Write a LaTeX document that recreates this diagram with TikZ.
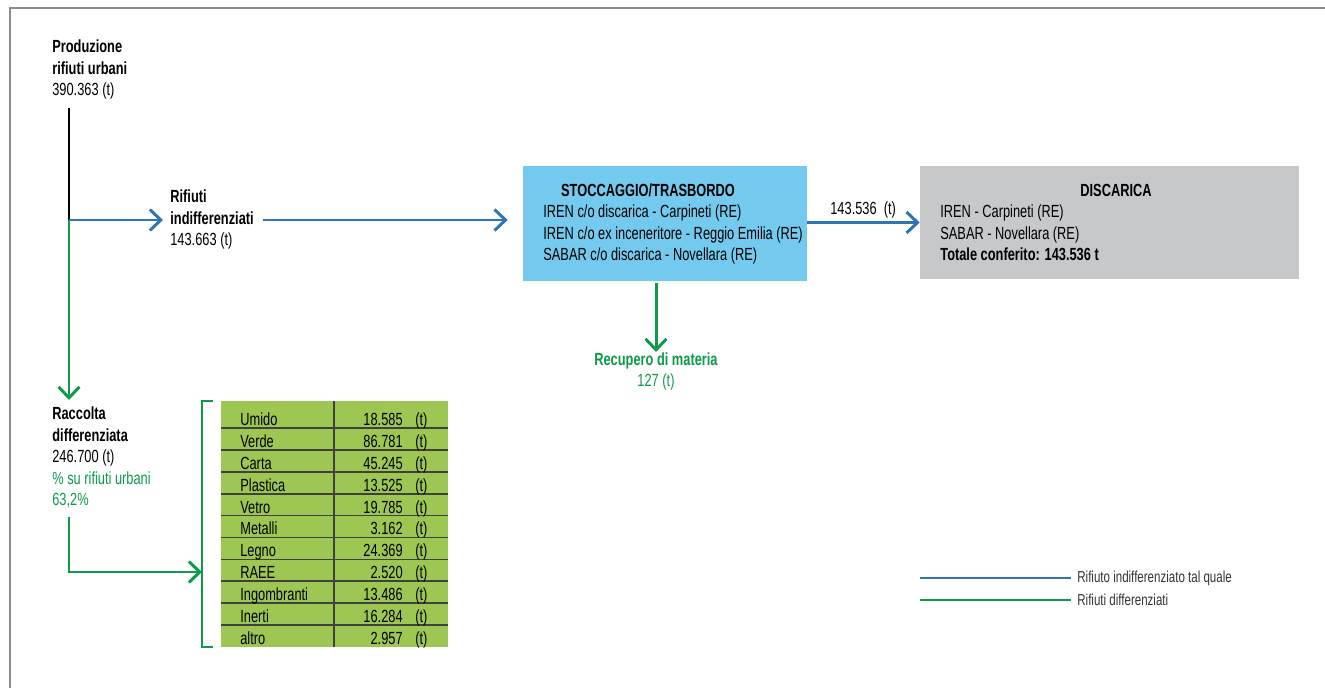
\documentclass[tikz,border=0pt]{standalone}
\usepackage{fontspec}
\setmainfont{Liberation Sans}[FakeStretch=0.73]
\usetikzlibrary{arrows.meta,positioning,calc}
\definecolor{flowblue}{HTML}{2E75B6}
\definecolor{flowgreen}{HTML}{0E9A48}
\definecolor{stockfill}{HTML}{73CAEE}
\definecolor{discfill}{HTML}{C7C8CA}
\definecolor{tabfill}{HTML}{9DC653}
\definecolor{framegray}{HTML}{8C8C8C}

\begin{document}
\begin{tikzpicture}[x=0.02cm, y=-0.02cm,
  txt/.style={anchor=base west, inner sep=0pt, align=left, font=\fontsize{10}{12.3}\selectfont},
  headtxt/.style={anchor=base, inner sep=0pt, font=\fontsize{10}{12.3}\selectfont\bfseries},
  boxfill/.style={rectangle, inner sep=0pt, minimum width=#1},
  bluearr/.style={-{Straight Barb[length=0.22cm,width=0.42cm]}, line width=1.7pt, flowblue},
  greenarr/.style={-{Straight Barb[length=0.22cm,width=0.42cm]}, line width=1.7pt, flowgreen},
  legline/.style={line width=1.7pt},
  sep/.style={line width=1pt, black!75},
  legtxt/.style={anchor=west, inner sep=0pt, font=\fontsize{9}{11}\selectfont, black!80}
]
  \useasboundingbox (0,0) rectangle (1325,688);
  \draw[framegray, line width=0.8pt] (1325,8) -- (10,8) -- (10,688);

  % top of the flow (multi-line texts sit on their last baseline)
  \node[txt] (prod) at (52,96) {\textbf{Produzione}\\\textbf{rifiuti urbani}\\390.363 (t)};
  \coordinate (prodend) at (69,108);
  \coordinate (split) at (69,220);
  \coordinate (indtip) at (163,220);
  \node[txt] (rifind) at (170,246) {\textbf{Rifiuti}\\\textbf{indifferenziati}\\143.663 (t)};
  \coordinate (indstart) at (263,220);

  % boxes
  \node[boxfill=5.68cm, minimum height=2.3cm, fill=stockfill] (stock) at (665,223.5) {};
  \node[headtxt] (stockhead) at (648,197) {STOCCAGGIO/TRASBORDO};
  \node[txt] (stocktxt) at (543,261) {IREN c/o discarica - Carpineti (RE)\\IREN c/o ex inceneritore - Reggio Emilia (RE)\\SABAR c/o discarica - Novellara (RE)};
  \node[boxfill=7.58cm, minimum height=2.26cm, fill=discfill] (disc) at (1109.5,222.5) {};
  \node[headtxt] (dischead) at (1116,197) {DISCARICA};
  \node[txt] (disctxt) at (940,261) {IREN - Carpineti (RE)\\SABAR - Novellara (RE)\\\textbf{Totale conferito: 143.536 t}};
  \node[txt] (discqty) at (830,215) {143.536~ (t)};
  \node[txt, anchor=north, align=center, text=flowgreen] (recup) at (656,352) {\textbf{Recupero di materia}\\127 (t)};

  % raccolta differenziata
  \node[txt] (racc) at (52,506) {\textbf{Raccolta}\\\textbf{differenziata}\\246.700 (t)\\\textcolor{flowgreen}{\% su rifiuti urbani}\\\textcolor{flowgreen}{63,2\%}};
  \coordinate (racctop) at (69,400);
  \coordinate (raccend) at (69,517);
  \coordinate (racctip) at (202,572);

  \node[boxfill=4.54cm, minimum height=4.92cm, fill=tabfill] (tab) at (334.5,524) {};
  \draw[sep] (334,401) -- (334,647);
  \foreach \lab/\val [count=\i from 0] in {Umido/18.585, Verde/86.781, Carta/45.245, Plastica/13.525, Vetro/19.785, Metalli/3.162, Legno/24.369, RAEE/2.520, Ingombranti/13.486, Inerti/16.284, altro/2.957}{
    \pgfmathsetmacro\yb{428+21.9*\i}
    \ifnum\i<10 \draw[sep] (221,\yb) -- (448,\yb); \fi
    \node[txt] (lab\i) at (240,\yb-2.5) {\lab};
    \node[txt, anchor=base east] (val\i) at (403,\yb-2.5) {\val};
    \node[txt] (unit\i) at (415,\yb-2.5) {(t)};
  }
  \draw[flowgreen, line width=0.8pt] (213,401) -- (202,401) -- (202,647) -- (213,647);

  % connectors
  \draw[line width=1.4pt] (prodend) -- (split);
  \draw[bluearr] (split) -- (indtip);
  \draw[bluearr, shorten >=0.3cm] (indstart) -- (stock.west |- indstart);
  \draw[bluearr] (stock.east |- disc.west) -- (disc.west);
  \draw[greenarr, shorten <=0.04cm] (recup.north |- stock.south) -- (recup.north);
  \draw[greenarr] (split) -- (racctop);
  \draw[greenarr] (raccend) |- (racctip);

  % legend
  \node[legtxt] (legind) at (1077,578) {Rifiuto indifferenziato tal quale};
  \node[legtxt] (legdiff) at (1077,600) {Rifiuti differenziati};
  \draw[legline, flowblue, shorten >=0.12cm] (920,578) -- (legind.west);
  \draw[legline, flowgreen, shorten >=0.12cm] (920,600) -- (legdiff.west);
\end{tikzpicture}
\end{document}
